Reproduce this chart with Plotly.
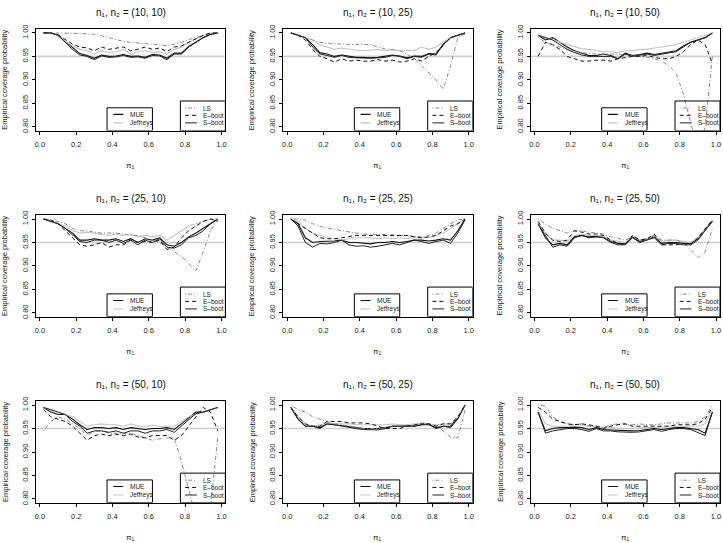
import plotly.graph_objects as go
from plotly.subplots import make_subplots

# ---------------- data ----------------
PI = [0.02, 0.06, 0.10, 0.14, 0.18, 0.22, 0.26, 0.30, 0.34, 0.38, 0.42, 0.46, 0.50,
      0.54, 0.58, 0.62, 0.66, 0.70, 0.74, 0.78, 0.82, 0.86, 0.90, 0.94, 0.98]

SERIES = ["MUE", "Jeffreys", "LS", "E\u2013boot", "S\u2013boot"]
SIZES = [(10, 10), (10, 25), (10, 50), (25, 10), (25, 25), (25, 50), (50, 10), (50, 25), (50, 50)]

# (10, 10)
mue_10_10 = [1.0, 1.0, 0.995, 0.982, 0.968, 0.956, 0.952, 0.946, 0.953, 0.950, 0.951, 0.954, 0.950,
             0.951, 0.948, 0.954, 0.953, 0.946, 0.957, 0.957, 0.971, 0.981, 0.990, 0.997, 1.0]
jef_10_10 = [1.0, 1.0, 0.995, 0.982, 0.972, 0.965, 0.962, 0.955, 0.963, 0.958, 0.960, 0.965, 0.955,
             0.960, 0.962, 0.958, 0.960, 0.955, 0.965, 0.970, 0.980, 0.988, 0.995, 0.999, 1.0]
ls_10_10 = [1.0, 1.0, 1.0, 1.0, 0.999, 0.999, 0.998, 0.997, 0.994, 0.990, 0.986, 0.982, 0.980,
            0.978, 0.977, 0.976, 0.975, 0.973, 0.976, 0.980, 0.986, 0.990, 0.995, 0.998, 1.0]
eb_10_10 = [1.0, 1.0, 0.996, 0.986, 0.976, 0.970, 0.968, 0.962, 0.970, 0.965, 0.968, 0.970, 0.962,
            0.965, 0.970, 0.965, 0.968, 0.960, 0.970, 0.972, 0.980, 0.988, 0.995, 1.0, 1.0]
sb_10_10 = [1.0, 1.0, 0.995, 0.980, 0.965, 0.953, 0.950, 0.943, 0.951, 0.948, 0.949, 0.952, 0.948,
            0.949, 0.946, 0.952, 0.951, 0.943, 0.955, 0.955, 0.970, 0.980, 0.990, 0.997, 1.0]

# (10, 25)
mue_10_25 = [1.0, 0.995, 0.990, 0.975, 0.958, 0.955, 0.950, 0.953, 0.950, 0.948, 0.948, 0.947, 0.948,
             0.950, 0.953, 0.951, 0.947, 0.951, 0.950, 0.956, 0.955, 0.976, 0.990, 0.995, 1.0]
jef_10_25 = [1.0, 0.995, 0.990, 0.985, 0.975, 0.970, 0.965, 0.968, 0.965, 0.963, 0.962, 0.963, 0.965,
             0.962, 0.965, 0.962, 0.963, 0.962, 0.970, 0.965, 0.970, 0.980, 0.990, 0.995, 0.998]
ls_10_25 = [1.0, 0.996, 0.990, 0.985, 0.980, 0.978, 0.977, 0.976, 0.975, 0.975, 0.976, 0.975, 0.970,
            0.966, 0.964, 0.962, 0.955, 0.945, 0.930, 0.915, 0.900, 0.880, 0.930, 0.990, 0.998]
eb_10_25 = [1.0, 0.995, 0.985, 0.965, 0.950, 0.945, 0.938, 0.945, 0.940, 0.942, 0.940, 0.940, 0.943,
            0.940, 0.942, 0.938, 0.940, 0.945, 0.940, 0.950, 0.958, 0.975, 0.990, 0.995, 1.0]
sb_10_25 = [1.0, 0.995, 0.990, 0.970, 0.955, 0.952, 0.948, 0.952, 0.948, 0.947, 0.946, 0.946, 0.947,
            0.948, 0.952, 0.950, 0.945, 0.950, 0.948, 0.955, 0.953, 0.975, 0.990, 0.995, 1.0]

# (10, 50)
mue_10_50 = [0.995, 0.985, 0.990, 0.980, 0.970, 0.962, 0.957, 0.952, 0.952, 0.955, 0.952, 0.945, 0.957,
             0.952, 0.954, 0.957, 0.954, 0.957, 0.960, 0.962, 0.972, 0.980, 0.985, 0.990, 1.0]
jef_10_50 = [0.995, 0.990, 0.985, 0.980, 0.975, 0.970, 0.966, 0.965, 0.962, 0.960, 0.960, 0.958, 0.962,
             0.962, 0.965, 0.965, 0.968, 0.970, 0.972, 0.975, 0.980, 0.985, 0.990, 0.995, 1.0]
ls_10_50 = [0.990, 0.980, 0.975, 0.970, 0.965, 0.960, 0.958, 0.956, 0.955, 0.955, 0.955, 0.955, 0.953,
            0.952, 0.950, 0.948, 0.945, 0.940, 0.930, 0.915, 0.870, 0.810, 0.750, 0.800, 0.950]
eb_10_50 = [0.950, 0.980, 0.975, 0.965, 0.950, 0.945, 0.940, 0.940, 0.942, 0.942, 0.940, 0.945, 0.948,
            0.950, 0.950, 0.952, 0.948, 0.945, 0.945, 0.950, 0.960, 0.975, 0.985, 0.975, 0.935]
sb_10_50 = [0.995, 0.990, 0.985, 0.975, 0.965, 0.958, 0.953, 0.950, 0.950, 0.950, 0.950, 0.945, 0.955,
            0.950, 0.952, 0.955, 0.952, 0.955, 0.958, 0.960, 0.970, 0.980, 0.985, 0.990, 1.0]

# (25, 10)
mue_25_10 = [1.0, 0.995, 0.990, 0.980, 0.970, 0.955, 0.955, 0.958, 0.955, 0.955, 0.958, 0.952, 0.958,
             0.950, 0.958, 0.955, 0.960, 0.945, 0.942, 0.950, 0.962, 0.970, 0.980, 0.990, 1.0]
jef_25_10 = [1.0, 0.995, 0.990, 0.985, 0.975, 0.970, 0.972, 0.970, 0.968, 0.965, 0.968, 0.965, 0.968,
             0.962, 0.965, 0.962, 0.965, 0.955, 0.965, 0.975, 0.985, 0.990, 0.995, 1.0, 1.0]
ls_25_10 = [1.0, 0.998, 0.995, 0.990, 0.980, 0.975, 0.975, 0.972, 0.970, 0.970, 0.970, 0.968, 0.965,
            0.965, 0.960, 0.955, 0.950, 0.940, 0.930, 0.920, 0.905, 0.890, 0.930, 0.975, 1.0]
eb_25_10 = [1.0, 0.998, 0.990, 0.975, 0.960, 0.945, 0.942, 0.945, 0.950, 0.940, 0.945, 0.945, 0.955,
            0.950, 0.952, 0.950, 0.955, 0.935, 0.940, 0.960, 0.975, 0.985, 0.995, 1.0, 0.995]
sb_25_10 = [1.0, 0.995, 0.990, 0.980, 0.965, 0.952, 0.950, 0.955, 0.955, 0.950, 0.955, 0.948, 0.955,
            0.945, 0.955, 0.950, 0.958, 0.940, 0.938, 0.945, 0.960, 0.965, 0.975, 0.990, 1.0]

# (25, 25)
mue_25_25 = [1.0, 0.990, 0.960, 0.950, 0.952, 0.952, 0.953, 0.955, 0.950, 0.950, 0.948, 0.947, 0.950,
             0.950, 0.952, 0.950, 0.952, 0.955, 0.955, 0.953, 0.955, 0.958, 0.955, 0.975, 1.0]
jef_25_25 = [1.0, 0.995, 0.980, 0.970, 0.965, 0.960, 0.958, 0.955, 0.958, 0.960, 0.960, 0.960, 0.958,
             0.960, 0.958, 0.960, 0.958, 0.960, 0.960, 0.960, 0.965, 0.970, 0.980, 0.990, 1.0]
ls_25_25 = [1.0, 1.0, 0.998, 0.990, 0.985, 0.980, 0.978, 0.975, 0.972, 0.970, 0.968, 0.967, 0.967,
            0.967, 0.966, 0.965, 0.963, 0.962, 0.962, 0.965, 0.970, 0.980, 0.990, 0.998, 1.0]
eb_25_25 = [1.0, 0.990, 0.980, 0.970, 0.960, 0.958, 0.958, 0.960, 0.962, 0.965, 0.965, 0.965, 0.965,
            0.965, 0.965, 0.965, 0.965, 0.962, 0.960, 0.962, 0.965, 0.975, 0.985, 0.990, 1.0]
sb_25_25 = [1.0, 0.985, 0.950, 0.940, 0.948, 0.947, 0.950, 0.955, 0.945, 0.942, 0.943, 0.940, 0.942,
            0.945, 0.948, 0.945, 0.950, 0.955, 0.952, 0.948, 0.952, 0.955, 0.948, 0.970, 0.998]

# (25, 50)
mue_25_50 = [0.990, 0.960, 0.945, 0.948, 0.945, 0.962, 0.965, 0.962, 0.963, 0.962, 0.952, 0.948, 0.947,
             0.962, 0.952, 0.957, 0.962, 0.948, 0.950, 0.950, 0.948, 0.948, 0.958, 0.978, 0.995]
jef_25_50 = [0.990, 0.970, 0.955, 0.955, 0.952, 0.965, 0.968, 0.965, 0.965, 0.963, 0.955, 0.952, 0.950,
             0.965, 0.955, 0.958, 0.965, 0.952, 0.955, 0.955, 0.952, 0.950, 0.960, 0.980, 0.998]
ls_25_50 = [1.0, 0.990, 0.980, 0.975, 0.970, 0.975, 0.975, 0.972, 0.970, 0.968, 0.962, 0.958, 0.955,
            0.962, 0.955, 0.958, 0.965, 0.955, 0.955, 0.955, 0.950, 0.935, 0.918, 0.930, 0.980]
eb_25_50 = [0.995, 0.970, 0.955, 0.952, 0.955, 0.975, 0.972, 0.968, 0.968, 0.965, 0.955, 0.948, 0.945,
            0.965, 0.955, 0.958, 0.968, 0.945, 0.945, 0.945, 0.948, 0.945, 0.960, 0.980, 0.998]
sb_25_50 = [0.990, 0.965, 0.940, 0.945, 0.942, 0.960, 0.965, 0.960, 0.962, 0.960, 0.950, 0.945, 0.945,
            0.960, 0.950, 0.955, 0.960, 0.945, 0.948, 0.948, 0.945, 0.945, 0.955, 0.975, 0.995]

# (50, 10)
mue_50_10 = [0.995, 0.985, 0.980, 0.980, 0.970, 0.958, 0.948, 0.952, 0.952, 0.950, 0.952, 0.948, 0.952,
             0.950, 0.948, 0.950, 0.950, 0.952, 0.948, 0.960, 0.972, 0.985, 0.985, 0.990, 0.995]
jef_50_10 = [0.995, 0.990, 0.985, 0.980, 0.975, 0.965, 0.955, 0.958, 0.960, 0.958, 0.958, 0.955, 0.960,
             0.955, 0.955, 0.957, 0.955, 0.955, 0.955, 0.965, 0.975, 0.980, 0.985, 0.990, 0.995]
ls_50_10 = [0.945, 0.965, 0.975, 0.970, 0.960, 0.950, 0.935, 0.945, 0.945, 0.940, 0.940, 0.940, 0.940,
            0.935, 0.930, 0.925, 0.928, 0.930, 0.930, 0.880, 0.820, 0.760, 0.740, 0.780, 0.930]
eb_50_10 = [0.990, 0.975, 0.970, 0.965, 0.955, 0.940, 0.925, 0.935, 0.938, 0.935, 0.938, 0.935, 0.938,
            0.932, 0.930, 0.935, 0.935, 0.935, 0.925, 0.935, 0.955, 0.975, 0.995, 0.985, 0.945]
sb_50_10 = [0.995, 0.990, 0.985, 0.980, 0.965, 0.955, 0.940, 0.945, 0.945, 0.942, 0.945, 0.940, 0.945,
            0.945, 0.940, 0.945, 0.945, 0.948, 0.942, 0.955, 0.970, 0.982, 0.985, 0.990, 0.995]

# (50, 25)
mue_50_25 = [0.995, 0.970, 0.955, 0.955, 0.952, 0.960, 0.958, 0.956, 0.955, 0.953, 0.950, 0.950, 0.950,
             0.952, 0.955, 0.955, 0.956, 0.955, 0.958, 0.958, 0.952, 0.955, 0.955, 0.972, 1.0]
jef_50_25 = [0.995, 0.975, 0.960, 0.955, 0.958, 0.962, 0.960, 0.960, 0.960, 0.958, 0.958, 0.958, 0.958,
             0.958, 0.960, 0.958, 0.958, 0.960, 0.962, 0.960, 0.958, 0.960, 0.960, 0.975, 0.998]
ls_50_25 = [1.0, 0.990, 0.985, 0.975, 0.970, 0.965, 0.960, 0.958, 0.955, 0.952, 0.950, 0.950, 0.950,
            0.952, 0.955, 0.955, 0.955, 0.958, 0.960, 0.958, 0.955, 0.945, 0.932, 0.930, 0.990]
eb_50_25 = [0.995, 0.975, 0.960, 0.955, 0.955, 0.965, 0.965, 0.965, 0.962, 0.962, 0.962, 0.960, 0.955,
            0.950, 0.950, 0.950, 0.955, 0.958, 0.960, 0.960, 0.955, 0.960, 0.960, 0.975, 1.0]
sb_50_25 = [0.995, 0.970, 0.955, 0.955, 0.950, 0.960, 0.958, 0.955, 0.952, 0.950, 0.948, 0.948, 0.947,
            0.950, 0.955, 0.955, 0.955, 0.955, 0.958, 0.960, 0.950, 0.955, 0.952, 0.970, 1.0]

# (50, 50)
mue_50_50 = [0.985, 0.945, 0.950, 0.952, 0.952, 0.953, 0.952, 0.948, 0.952, 0.948, 0.947, 0.946, 0.945,
             0.945, 0.946, 0.948, 0.950, 0.948, 0.950, 0.952, 0.952, 0.950, 0.948, 0.940, 0.985]
jef_50_50 = [0.990, 0.960, 0.955, 0.955, 0.955, 0.958, 0.958, 0.955, 0.955, 0.952, 0.952, 0.950, 0.950,
             0.950, 0.952, 0.952, 0.952, 0.953, 0.955, 0.955, 0.955, 0.955, 0.955, 0.960, 0.990]
ls_50_50 = [1.0, 0.998, 0.975, 0.965, 0.960, 0.958, 0.960, 0.955, 0.955, 0.952, 0.958, 0.960, 0.960,
            0.958, 0.960, 0.958, 0.958, 0.960, 0.962, 0.962, 0.962, 0.962, 0.965, 0.975, 1.0]
eb_50_50 = [0.995, 0.985, 0.970, 0.965, 0.960, 0.958, 0.960, 0.958, 0.955, 0.950, 0.955, 0.958, 0.960,
            0.955, 0.955, 0.955, 0.955, 0.955, 0.955, 0.958, 0.958, 0.958, 0.960, 0.970, 0.995]
sb_50_50 = [0.985, 0.940, 0.945, 0.948, 0.950, 0.950, 0.948, 0.944, 0.950, 0.945, 0.945, 0.943, 0.942,
            0.942, 0.943, 0.945, 0.948, 0.944, 0.948, 0.950, 0.950, 0.948, 0.942, 0.935, 0.985]

PANELS = [
    [mue_10_10, jef_10_10, ls_10_10, eb_10_10, sb_10_10],
    [mue_10_25, jef_10_25, ls_10_25, eb_10_25, sb_10_25],
    [mue_10_50, jef_10_50, ls_10_50, eb_10_50, sb_10_50],
    [mue_25_10, jef_25_10, ls_25_10, eb_25_10, sb_25_10],
    [mue_25_25, jef_25_25, ls_25_25, eb_25_25, sb_25_25],
    [mue_25_50, jef_25_50, ls_25_50, eb_25_50, sb_25_50],
    [mue_50_10, jef_50_10, ls_50_10, eb_50_10, sb_50_10],
    [mue_50_25, jef_50_25, ls_50_25, eb_50_25, sb_50_25],
    [mue_50_50, jef_50_50, ls_50_50, eb_50_50, sb_50_50],
]

X_TICKS = [0.0, 0.2, 0.4, 0.6, 0.8, 1.0]
Y_TICKS = [0.80, 0.85, 0.90, 0.95, 1.00]
REF_LEVEL = 0.95

# ---------------- styling ----------------
W, H = 723, 543
FONT = "Liberation Sans"
STYLE = {
    "MUE": dict(color="#111111", width=1.1, dash="solid"),
    "Jeffreys": dict(color="#c4c4c4", width=1.1, dash="solid"),
    "LS": dict(color="#8a8a8a", width=1.0, dash="1px,2px,4px,2px"),
    "E\u2013boot": dict(color="#111111", width=1.0, dash="4px,3px"),
    "S\u2013boot": dict(color="#222222", width=1.0, dash="solid"),
}

BOX_LEFT = [35, 283, 531]
BOX_W = 190
BOX_TOP = [24.5, 213, 401.5]
BOX_H = 102.7
XR = [-0.022, 1.022]
YR = [0.792, 1.008]

fig = make_subplots(rows=3, cols=3)

for idx, (sizes, vals) in enumerate(zip(SIZES, PANELS)):
    r, c = divmod(idx, 3)
    for name, v in zip(SERIES, vals):
        st = STYLE[name]
        fig.add_trace(go.Scatter(x=PI, y=v, mode="lines", name=name, showlegend=False,
                                 line=dict(color=st["color"], width=st["width"], dash=st["dash"]),
                                 hoverinfo="skip"), row=r + 1, col=c + 1)

shapes = []
annotations = []
for idx, sizes in enumerate(SIZES):
    r, c = divmod(idx, 3)
    n = idx + 1
    sfx = "" if n == 1 else str(n)
    x0p, x1p = BOX_LEFT[c], BOX_LEFT[c] + BOX_W
    y0p, y1p = BOX_TOP[r], BOX_TOP[r] + BOX_H
    fig.layout["xaxis" + sfx].update(
        domain=[x0p / W, x1p / W], range=XR, tickvals=X_TICKS, tickformat=".1f",
        showline=True, mirror=True, linecolor="black", linewidth=1, ticks="outside",
        ticklen=3, tickcolor="black", showgrid=False, zeroline=False,
        tickfont=dict(family=FONT, size=7.5, color="#222"), ticklabelstandoff=3)
    fig.layout["yaxis" + sfx].update(
        domain=[1 - y1p / H, 1 - y0p / H], range=YR, tickvals=Y_TICKS, tickformat=".2f",
        showline=True, mirror=True, linecolor="black", linewidth=1, ticks="outside",
        ticklen=3, tickcolor="black", showgrid=False, zeroline=False, tickangle=-90,
        tickfont=dict(family=FONT, size=7.5, color="#222"), ticklabelstandoff=1)
    xr, yr = "x" + sfx, "y" + sfx
    # reference line at 0.95
    shapes.append(dict(type="line", xref=xr + " domain", yref=yr, x0=0, x1=1,
                       y0=REF_LEVEL, y1=REF_LEVEL, line=dict(color="#cfcfcf", width=1.6),
                       layer="below"))
    # legend boxes
    shapes.append(dict(type="rect", xref=xr, yref=yr, x0=0.37, x1=0.62, y0=YR[0], y1=0.8405,
                       line=dict(color="black", width=1)))
    shapes.append(dict(type="rect", xref=xr, yref=yr, x0=0.774, x1=XR[1], y0=YR[0], y1=0.855,
                       line=dict(color="black", width=1)))
    for name, yy in zip(["MUE", "Jeffreys"], [0.8265, 0.8084]):
        st = STYLE[name]
        shapes.append(dict(type="line", xref=xr, yref=yr, x0=0.404, x1=0.459, y0=yy, y1=yy,
                           line=dict(color=st["color"], width=st["width"], dash=st["dash"])))
        annotations.append(dict(xref=xr, yref=yr, x=0.485, y=yy, text=name, showarrow=False,
                                xanchor="left", yanchor="middle",
                                font=dict(family=FONT, size=6.5, color="#222")))
    for name, yy in zip(["LS", "E\u2013boot", "S\u2013boot"], [0.840, 0.8245, 0.8084]):
        st = STYLE[name]
        shapes.append(dict(type="line", xref=xr, yref=yr, x0=0.80, x1=0.865, y0=yy, y1=yy,
                           line=dict(color=st["color"], width=st["width"], dash=st["dash"])))
        annotations.append(dict(xref=xr, yref=yr, x=0.887, y=yy, text=name, showarrow=False,
                                xanchor="left", yanchor="middle",
                                font=dict(family=FONT, size=6.5, color="#222")))
    cx = (x0p + x1p) / 2
    # panel title
    annotations.append(dict(xref="paper", yref="paper", x=cx / W, y=1 - (y0p - 17) / H,
                            text="n\u2081, n\u2082 = (%d, %d)" % sizes,
                            showarrow=False, xanchor="center", yanchor="middle",
                            font=dict(family=FONT, size=10, color="#111")))
    # x label
    annotations.append(dict(xref="paper", yref="paper", x=cx / W, y=1 - (y1p + 35) / H,
                            text="\u03c0\u2081", showarrow=False, xanchor="center",
                            yanchor="middle", font=dict(family=FONT, size=8, color="#222")))
    # y label
    annotations.append(dict(xref="paper", yref="paper", x=(x0p - 31) / W,
                            y=1 - (y0p + y1p) / 2 / H, text="Empirical coverage probability",
                            textangle=-90, showarrow=False, xanchor="center", yanchor="middle",
                            font=dict(family=FONT, size=7.5, color="#222")))

fig.update_layout(width=W, height=H, margin=dict(l=0, r=0, t=0, b=0),
                  plot_bgcolor="white", paper_bgcolor="white", showlegend=False,
                  shapes=shapes, annotations=annotations)

fig.write_html("out.html", config={"displayModeBar": False},
               post_script="document.body.style.margin='0';document.body.style.padding='0';")
